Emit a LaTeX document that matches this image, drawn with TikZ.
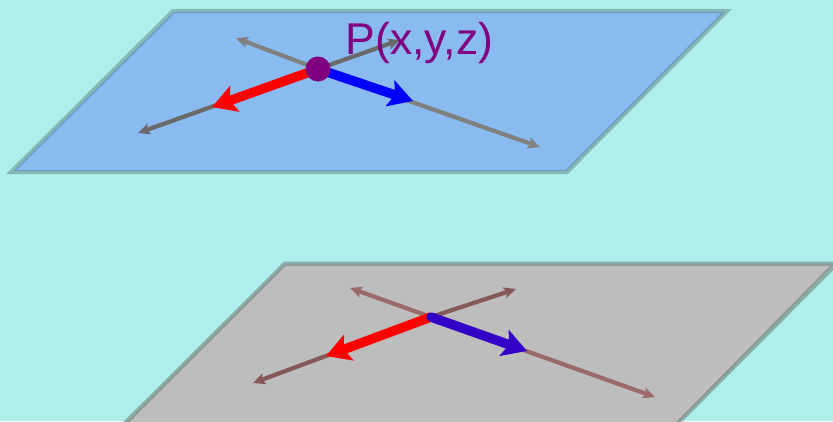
\documentclass[tikz,border=0pt]{standalone}
\usepackage{fontspec}
\setmainfont{Liberation Sans}
\usetikzlibrary{arrows.meta}
\definecolor{bgc}{HTML}{AEEFEC}
\definecolor{planeblue}{HTML}{8ABBF0}
\definecolor{planegray}{HTML}{BDBDBD}
\definecolor{edgeout}{HTML}{85B8B4}
\definecolor{edgeblue}{HTML}{6F9BC4}
\definecolor{edgegray}{HTML}{88ADAB}
\definecolor{edgegrayin}{HTML}{8F9392}
\definecolor{lnA}{HTML}{808080}
\definecolor{lnB}{HTML}{696969}
\definecolor{lnC}{HTML}{9A6A68}
\definecolor{lnD}{HTML}{855957}
\definecolor{pointc}{HTML}{800080}
\definecolor{indigoc}{HTML}{3300C8}
\tikzset{
  thinarrow/.style={line width=4.2pt,-{Stealth[length=12pt,width=11pt,inset=2.5pt]}},
  fatarrow/.style={line width=9.5pt,-{Stealth[length=24pt,width=27pt,inset=5pt]}},
}
\begin{document}
\begin{tikzpicture}[x=1pt,y=-1pt]
\useasboundingbox (0,0) rectangle (833,421);
\clip (0,0) rectangle (833,421);
\fill[bgc] (0,0) rectangle (833,421);
% upper plane
\draw[edgeout,line width=4pt,fill=planeblue,line join=miter] (173,11) -- (727,11) -- (567,172) -- (11,172) -- cycle;
\draw[edgeblue,line width=1.4pt,line join=miter] (174.5,12.5) -- (723,12.5) -- (566,170.5) -- (15,170.5) -- cycle;
\coordinate (c1) at (318,69);
\coordinate (ul1) at (236,38);
\coordinate (ur1) at (400,40);
\coordinate (dl1) at (138,133);
\coordinate (dr1) at (540,147);
\coordinate (rt1) at (212,107);
\coordinate (bt1) at (413,101);
\draw[thinarrow,lnA] (c1) -- (ul1);
\draw[thinarrow,lnA] (c1) -- (dr1);
\draw[thinarrow,lnB] (c1) -- (ur1);
\draw[thinarrow,lnB] (c1) -- (dl1);
\node[text=pointc,font=\fontsize{44.5}{44.5}\selectfont,inner sep=0pt] (label) at (419.5,42.5) {P(x,y,z)};
\draw[fatarrow,red] (c1) -- (rt1);
\draw[fatarrow,blue] (c1) -- (bt1);
\node[circle,fill=pointc,minimum size=25pt,inner sep=0pt] (pt) at (c1) {};
% lower plane
\draw[edgegray,line width=4pt,fill=planegray,line join=miter] (285,263.5) -- (837,263.5) -- (675,426) -- (122,426) -- cycle;
\draw[edgegrayin,line width=1.4pt,line join=miter] (285.5,265) -- (832,265) -- (673.5,426) -- (124,426) -- cycle;
\coordinate (c2) at (431,317);
\coordinate (ul2) at (350,288);
\coordinate (ur2) at (516,289);
\coordinate (dl2) at (253,383);
\coordinate (dr2) at (655,397);
\coordinate (rt2) at (326,356);
\coordinate (bt2) at (527,351);
\draw[thinarrow,lnC] (c2) -- (ul2);
\draw[thinarrow,lnC] (c2) -- (dr2);
\draw[thinarrow,lnD] (c2) -- (ur2);
\draw[thinarrow,lnD] (c2) -- (dl2);
\draw[fatarrow,red] (c2) -- (rt2);
\draw[fatarrow,indigoc,line cap=round] (c2) -- (bt2);
\end{tikzpicture}
\end{document}
